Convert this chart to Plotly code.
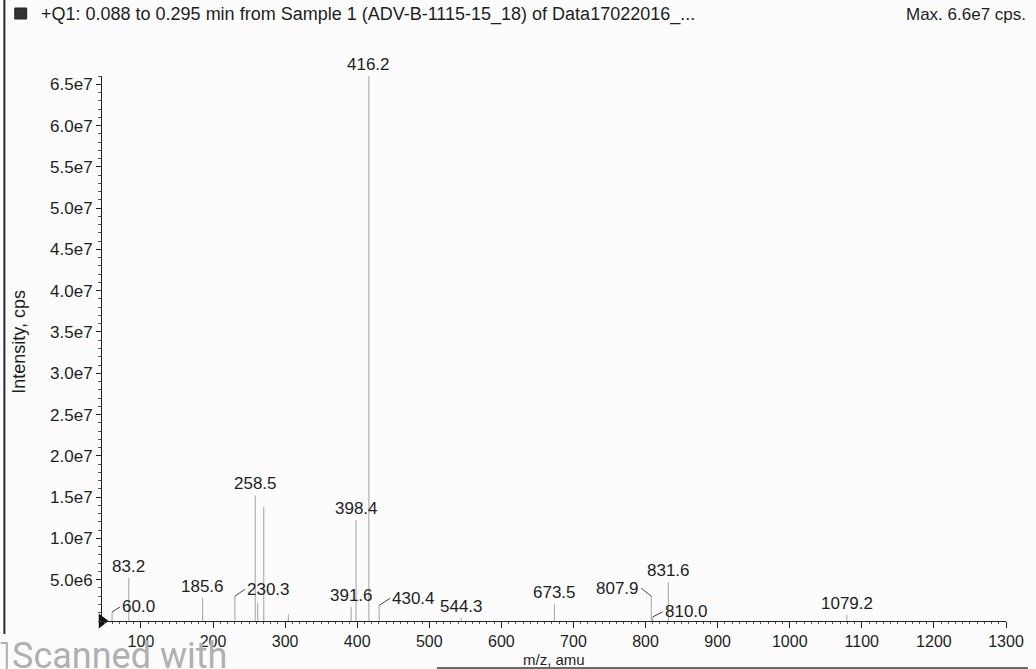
import plotly.graph_objects as go

# Q1 scan: labelled peaks (m/z, intensity in cps)
mz_labeled = [60.0, 83.2, 185.6, 230.3, 258.5, 391.6, 398.4, 416.2,
              430.4, 544.3, 673.5, 807.9, 810.0, 831.6, 1079.2]
int_labeled = [1.1e6, 5.2e6, 2.8e6, 3.0e6, 1.52e7, 1.7e6, 1.22e7, 6.6e7,
               1.9e6, 0.4e6, 2.0e6, 3.0e6, 0.5e6, 4.7e6, 0.7e6]

# smaller peaks without labels
mz_other = [270.4, 304.5, 262.0]
int_other = [1.38e7, 0.8e6, 2.2e6]

x_ticks = [100, 200, 300, 400, 500, 600, 700, 800, 900, 1000, 1100, 1200, 1300]
y_ticks = [5.0e6, 1.0e7, 1.5e7, 2.0e7, 2.5e7, 3.0e7, 3.5e7, 4.0e7, 4.5e7,
           5.0e7, 5.5e7, 6.0e7, 6.5e7]
y_tick_text = ["5.0e6", "1.0e7", "1.5e7", "2.0e7", "2.5e7", "3.0e7", "3.5e7",
               "4.0e7", "4.5e7", "5.0e7", "5.5e7", "6.0e7", "6.5e7"]

title_text = "+Q1: 0.088 to 0.295 min from Sample 1 (ADV-B-1115-15_18) of Data17022016_..."
max_text = "Max. 6.6e7 cps."

X_MIN, X_MAX = 46, 1300
Y_MAX = 6.6e7

W, H = 1036, 669
ML, MR, MT, MB = 102, 22, 76, 48
PW, PH = W - ML - MR, H - MT - MB

FONT = "Arial, Liberation Sans, sans-serif"
INK = "#1e1e1e"
STICK = "#a2a2a2"


def px(xp):
    return (xp - ML) / PW


def py(yp):
    return (H - MB - yp) / PH


def sticks(mz, inten):
    xs, ys = [], []
    for m, v in zip(mz, inten):
        xs += [m, m, None]
        ys += [0, v, None]
    return xs, ys


fig = go.Figure()

sx, sy = sticks(mz_other, int_other)
fig.add_trace(go.Scatter(x=sx, y=sy, mode="lines",
                         line=dict(color=STICK, width=1), hoverinfo="skip"))
sx, sy = sticks(mz_labeled, int_labeled)
fig.add_trace(go.Scatter(x=sx, y=sy, mode="lines",
                         line=dict(color=STICK, width=1), hoverinfo="skip"))

# origin marker on the baseline
fig.add_trace(go.Scatter(x=[X_MIN], y=[0], mode="markers",
                         marker=dict(symbol="triangle-right", size=13, color="#111"),
                         cliponaxis=False, hoverinfo="skip"))

# peak labels; some use short leader lines
leaders = {
    60.0: (8, -5, "left"),
    230.3: (10, -7, "left"),
    430.4: (11, -7, "left"),
    807.9: (-10, -8, "right"),
    810.0: (10, -5, "left"),
}
annotations = []
for m, v in zip(mz_labeled, int_labeled):
    label = f"{m:.1f}"
    if m in leaders:
        ax, ay, anchor = leaders[m]
        annotations.append(dict(
            x=m, y=v, text=label, showarrow=True, arrowhead=0, arrowwidth=1,
            arrowcolor="#444", ax=ax, ay=ay, xanchor=anchor, yanchor="middle",
            font=dict(family=FONT, size=17, color=INK)))
    else:
        annotations.append(dict(
            x=m, y=v, text=label, showarrow=False, xanchor="center",
            yanchor="bottom", yshift=0,
            font=dict(family=FONT, size=17, color=INK)))

# header line
annotations.append(dict(xref="paper", yref="paper", x=px(38), y=py(14),
                        text=title_text, showarrow=False, xanchor="left",
                        yanchor="middle", font=dict(family=FONT, size=18, color=INK)))
annotations.append(dict(xref="paper", yref="paper", x=px(1036), y=py(14),
                        text=max_text, showarrow=False, xanchor="right",
                        yanchor="middle", font=dict(family=FONT, size=17, color=INK)))
# axis titles
annotations.append(dict(xref="paper", yref="paper", x=px(18), y=py(342),
                        text="Intensity, cps", showarrow=False, textangle=-90,
                        xanchor="center", yanchor="middle",
                        font=dict(family=FONT, size=18, color=INK)))
annotations.append(dict(xref="paper", yref="paper", x=px(558), y=py(659),
                        text="m/z, amu", showarrow=False, xanchor="center",
                        yanchor="middle", font=dict(family=FONT, size=15, color=INK)))
# scanner watermark
annotations.append(dict(xref="paper", yref="paper", x=px(9), y=py(633),
                        text="Scanned with", showarrow=False, xanchor="left",
                        yanchor="top", font=dict(family="Roboto, sans-serif", size=36,
                                                 color="#b0b0b0")))

shapes = [
    # legend swatch in the header
    dict(type="rect", xref="paper", yref="paper", x0=px(14), x1=px(26),
         y0=py(19), y1=py(8), fillcolor="#333", line=dict(color="#222", width=1)),
    # page edge
    dict(type="line", xref="paper", yref="paper", x0=px(3.5), x1=px(3.5),
         y0=py(0), y1=py(634), line=dict(color="#2a2a2a", width=2)),
    dict(type="rect", xref="paper", yref="paper", x0=px(440), x1=px(1036),
         y0=py(669), y1=py(667), fillcolor="#6a6a6a", line=dict(width=0)),
    # watermark badge edge
    dict(type="path", xref="paper", yref="paper",
         path=f"M {px(0)},{py(643)} L {px(6)},{py(643)} L {px(6)},{py(669)}",
         line=dict(color="#b0b0b0", width=2)),
]

fig.update_layout(
    width=W, height=H, autosize=False,
    margin=dict(l=ML, r=MR, t=MT, b=MB),
    paper_bgcolor="#fcfcfc", plot_bgcolor="#fcfcfc",
    showlegend=False,
    annotations=annotations, shapes=shapes,
    xaxis=dict(range=[X_MIN, X_MAX], tickvals=x_ticks, showgrid=False,
               zeroline=False, showline=True, linecolor="#222", linewidth=1,
               ticks="outside", ticklen=6, tickcolor="#222",
               minor=dict(dtick=10, tick0=0, ticks="outside", ticklen=2,
                          tickcolor="#555"),
               tickfont=dict(family=FONT, size=16, color=INK)),
    yaxis=dict(range=[0, Y_MAX], tickvals=y_ticks, ticktext=y_tick_text,
               showgrid=False, zeroline=False, showline=True, linecolor="#222",
               linewidth=1, ticks="outside", ticklen=5, tickcolor="#222",
               minor=dict(dtick=1e6, tick0=0, ticks="outside", ticklen=3,
                          tickcolor="#555"),
               tickfont=dict(family=FONT, size=17, color=INK)),
)

fig.write_html("out.html")
